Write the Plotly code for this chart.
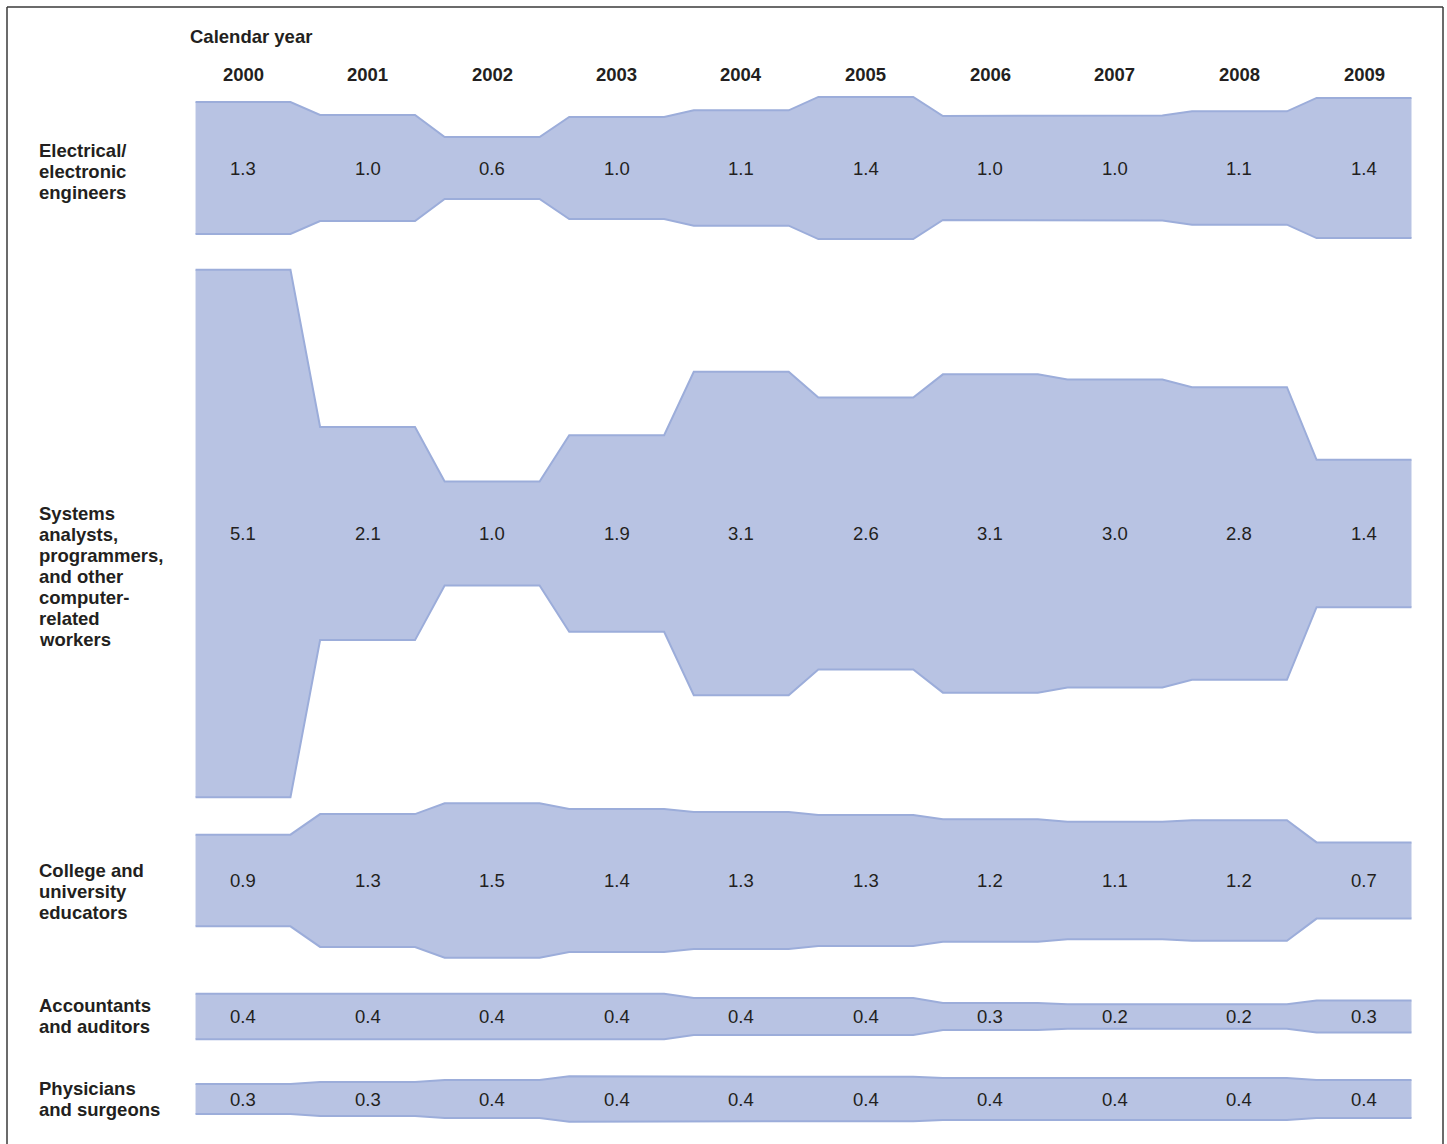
import plotly.graph_objects as go

# ---------------- data ----------------
years = [2000, 2001, 2002, 2003, 2004, 2005, 2006, 2007, 2008, 2009]

row_labels = [
    ["Electrical/", "electronic", "engineers"],
    ["Systems", "analysts,", "programmers,", "and other", "computer-", "related", "workers"],
    ["College and", "university", "educators"],
    ["Accountants", "and auditors"],
    ["Physicians", "and surgeons"],
]

electrical = [1.28, 1.03, 0.60, 0.99, 1.12, 1.38, 1.01, 1.02, 1.10, 1.36]
systems = [5.12, 2.07, 1.01, 1.91, 3.14, 2.64, 3.09, 2.99, 2.84, 1.43]
college = [0.89, 1.29, 1.50, 1.39, 1.33, 1.27, 1.19, 1.14, 1.17, 0.74]
accountants = [0.44, 0.43, 0.44, 0.44, 0.36, 0.36, 0.26, 0.24, 0.24, 0.31]
physicians = [0.29, 0.33, 0.37, 0.44, 0.43, 0.43, 0.41, 0.41, 0.41, 0.37]

series = [electrical, systems, college, accountants, physicians]

header_title = "Calendar year"

# ---------------- layout constants ----------------
W, H = 1447, 1144
PX_PER_UNIT = 103.0
ROW_CENTER_PX = [168, 533.5, 880.5, 1016.5, 1099]
LABEL_FIRST_PX = [150, 513, 870, 1005, 1088]
LINE_GAP_PX = 21
YEAR0_PX = 243.0
YEAR_STEP_PX = 124.56
FLAT_HALF = 0.381  # half width of flat segment (in years)

FILL = "#b8c3e3"
EDGE = "#9cadda"
TEXT = "#231f20"
FONT = "Liberation Sans, Arial, Helvetica, sans-serif"
FS = 18.5

x0 = years[0] - YEAR0_PX / YEAR_STEP_PX
x1 = years[0] + (W - YEAR0_PX) / YEAR_STEP_PX
y_top_units = 0.0
y_bot_units = H / PX_PER_UNIT


def px_to_units(p):
    return p / PX_PER_UNIT


def px_to_xdata(p):
    return years[0] + (p - YEAR0_PX) / YEAR_STEP_PX


fig = go.Figure()
annotations = []

for r, vals in enumerate(series):
    c = px_to_units(ROW_CENTER_PX[r])
    xs, top, bot = [], [], []
    for yr, v in zip(years, vals):
        xs += [yr - FLAT_HALF, yr + FLAT_HALF]
        top += [c - v / 2, c - v / 2]
        bot += [c + v / 2, c + v / 2]
    fig.add_trace(go.Scatter(
        x=xs + xs[::-1], y=top + bot[::-1], mode="lines", fill="toself",
        fillcolor=FILL, line=dict(width=0, color=FILL), hoverinfo="skip",
        showlegend=False))
    for edge in (top, bot):
        fig.add_trace(go.Scatter(
            x=xs, y=edge, mode="lines", line=dict(width=2, color=EDGE),
            hoverinfo="skip", showlegend=False))
    for yr, v in zip(years, vals):
        annotations.append(dict(
            x=yr, y=c, xref="x", yref="y", text=f"{v:.1f}", showarrow=False,
            font=dict(family=FONT, size=FS, color=TEXT),
            xanchor="center", yanchor="middle"))
    for k, line in enumerate(row_labels[r]):
        annotations.append(dict(
            x=px_to_xdata(39), y=px_to_units(LABEL_FIRST_PX[r] + k * LINE_GAP_PX),
            xref="x", yref="y", text=f"<b>{line}</b>", showarrow=False,
            font=dict(family=FONT, size=FS, color=TEXT),
            xanchor="left", yanchor="middle", borderpad=0, xshift=-1))

for yr in years:
    annotations.append(dict(
        x=yr, y=px_to_units(74), xref="x", yref="y", text=f"<b>{yr}</b>",
        showarrow=False, font=dict(family=FONT, size=FS, color=TEXT),
        xanchor="center", yanchor="middle"))

annotations.append(dict(
    x=px_to_xdata(190), y=px_to_units(36), xref="x", yref="y",
    text=f"<b>{header_title}</b>", showarrow=False,
    font=dict(family=FONT, size=FS, color=TEXT),
    xanchor="left", yanchor="middle", borderpad=0, xshift=-1))

# frame (left, top, right)
shapes = [
    dict(type="line", xref="paper", yref="paper", x0=7 / W, x1=7 / W, y0=1 - 7 / H, y1=-0.01,
         line=dict(color="#3a3a3a", width=1.5)),
    dict(type="line", xref="paper", yref="paper", x0=7 / W, x1=1443 / W, y0=1 - 7 / H, y1=1 - 7 / H,
         line=dict(color="#3a3a3a", width=1.5)),
    dict(type="line", xref="paper", yref="paper", x0=1443 / W, x1=1443 / W, y0=1 - 7 / H, y1=-0.01,
         line=dict(color="#3a3a3a", width=1.5)),
]

fig.update_layout(
    width=W, height=H, margin=dict(l=0, r=0, t=0, b=0),
    paper_bgcolor="white", plot_bgcolor="white",
    xaxis=dict(range=[x0, x1], visible=False, fixedrange=True),
    yaxis=dict(range=[y_bot_units, y_top_units], visible=False, fixedrange=True),
    annotations=annotations, shapes=shapes, showlegend=False,
)

fig.write_html("out.html", config={"displayModeBar": False},
               post_script="document.body.style.margin='0';document.body.style.overflow='hidden';")
